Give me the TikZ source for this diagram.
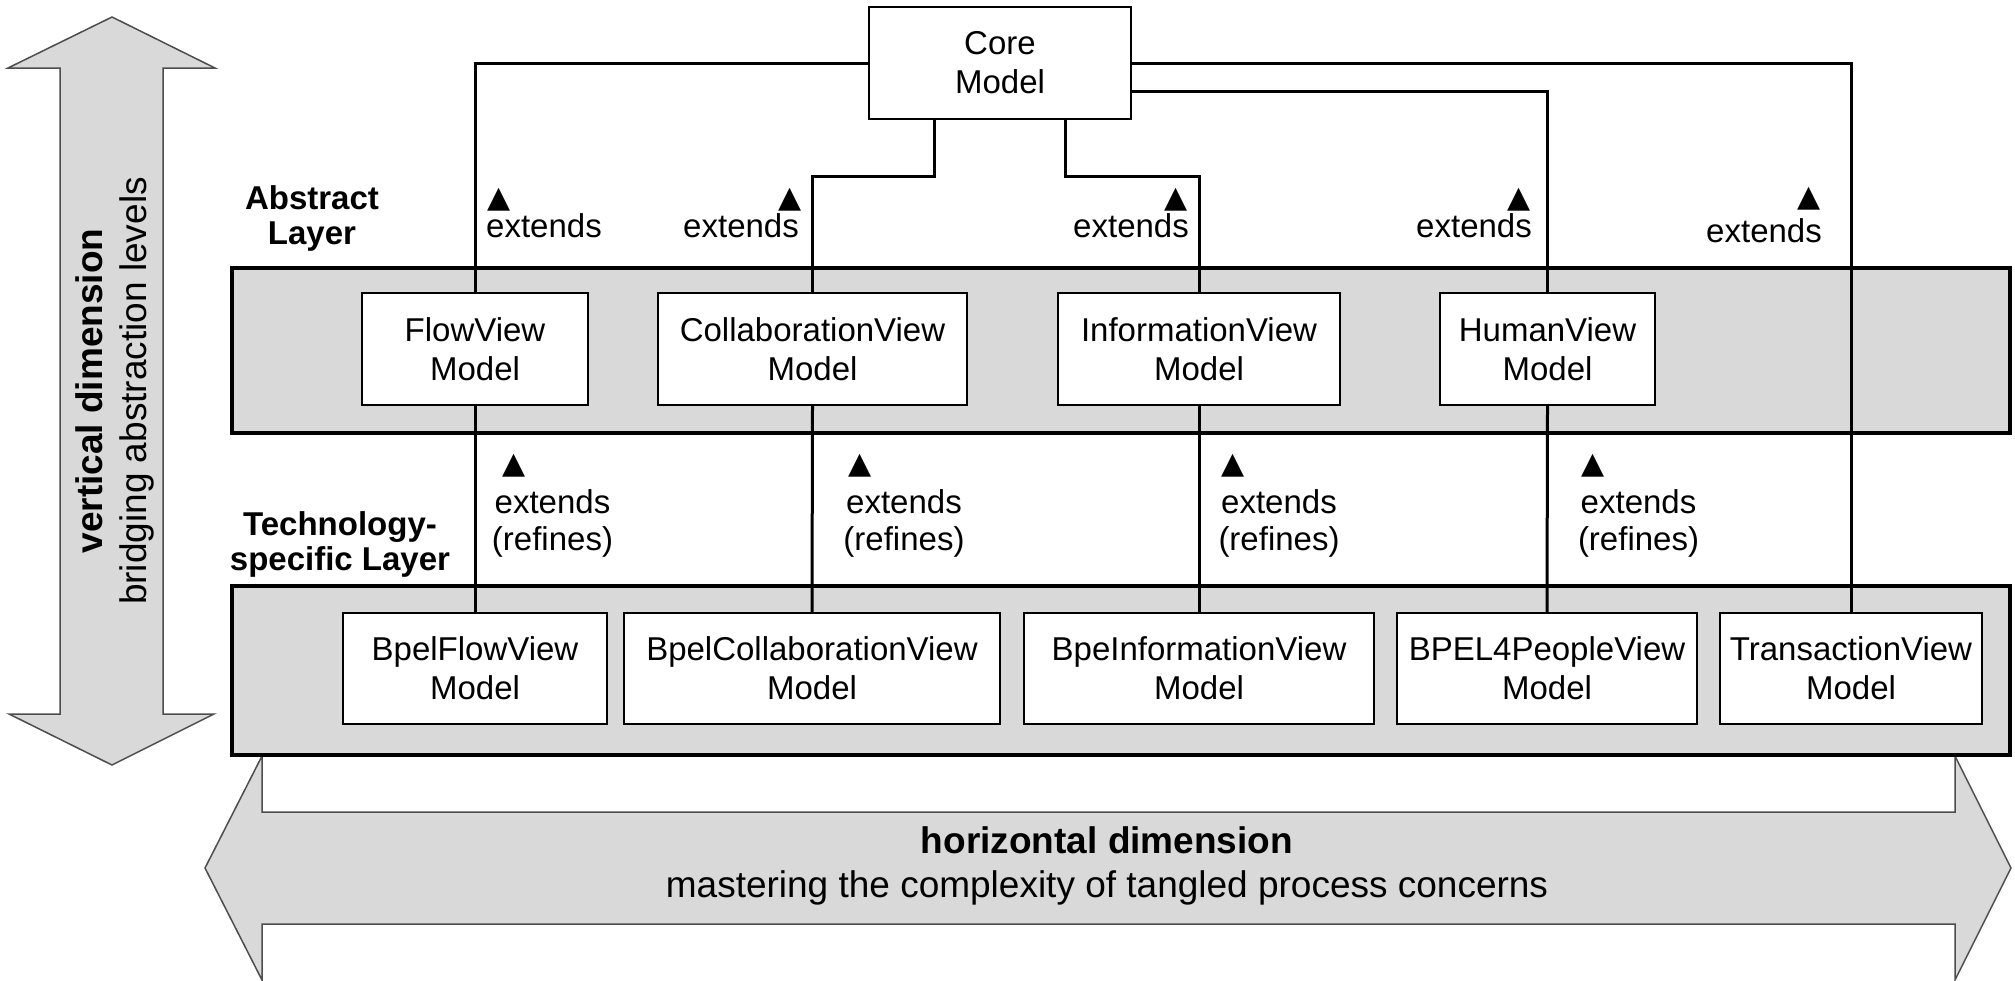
\documentclass[tikz,border=0pt]{standalone}
\usepackage{fontspec}
\setmainfont{Liberation Sans}
\newfontfamily\symbolfam{DejaVu Sans}
\definecolor{panelgray}{HTML}{D9D9D9}
\definecolor{edgegray}{HTML}{4D4D4D}
\newcommand{\mdlsize}{\fontsize{33}{39}\selectfont}
\newcommand{\lblsize}{\fontsize{33}{37}\selectfont}
\newcommand{\ttlsize}{\fontsize{33}{35}\selectfont\bfseries}
\newcommand{\dimsize}{\fontsize{37}{44}\selectfont}
\begin{document}
\begin{tikzpicture}[x=1pt,y=-1pt,
  layer/.style={draw=black, fill=panelgray, line width=3.5pt, inner sep=0pt},
  dimarrow/.style={draw=edgegray, fill=panelgray, line width=1.5pt, line join=miter},
  model/.style={draw=black, fill=white, line width=2pt, inner sep=0pt, align=center, font=\mdlsize},
  conn/.style={line width=3pt},
  lbl/.style={inner sep=0pt, font=\lblsize, align=center},
  ttl/.style={inner sep=0pt, font=\ttlsize, align=center},
  tri/.style={inner sep=0pt, font=\symbolfam\fontsize{30}{30}\selectfont},
]
\useasboundingbox (0,0) rectangle (2015,980);

% horizontal dimension (double arrow along the bottom)
\draw[dimarrow] (205,868) -- (262,756) -- (262,812) -- (1955,812) -- (1955,756)
  -- (2011,868) -- (1955,980) -- (1955,924) -- (262,924) -- (262,980) -- cycle;
% base anchor of a multi-line node sits on its last line
\node[inner sep=0pt, align=center, font=\dimsize, anchor=base] (hdim) at (1107,897)
  {\bfseries horizontal dimension\\mastering the complexity of tangled process concerns};

% vertical dimension (double arrow on the left)
\draw[dimarrow] (112,17) -- (215,68) -- (163,68) -- (163,714) -- (214,714)
  -- (112,765) -- (9,714) -- (60,714) -- (60,68) -- (8,68) -- cycle;
\node[inner sep=0pt, align=center, font=\dimsize, rotate=90, anchor=base] (vdim) at (146,391)
  {{\bfseries vertical dimension}\\bridging abstraction levels};

% layers
\node[layer, minimum width=1778pt, minimum height=165pt] (abstractlayer) at (1121,350.5) {};
\node[layer, minimum width=1778pt, minimum height=169pt] (techlayer) at (1121,670.5) {};

\node[ttl, anchor=base] (abstractttl) at (312,244) {Abstract\\Layer};
\node[ttl, anchor=base] (techttl) at (340,570) {Technology-\\specific Layer};

% core model
\node[model, minimum width=262pt, minimum height=112pt] (core) at (1000,63) {Core\\Model};

% abstract view models
\node[model, minimum width=226pt, minimum height=112pt] (flow) at (475,349) {FlowView\\Model};
\node[model, minimum width=309pt, minimum height=112pt] (collab) at (812.5,349) {CollaborationView\\Model};
\node[model, minimum width=282pt, minimum height=112pt] (info) at (1199,349) {InformationView\\Model};
\node[model, minimum width=215pt, minimum height=112pt] (human) at (1547.5,349) {HumanView\\Model};

% technology-specific view models
\node[model, minimum width=264pt, minimum height=111pt] (bflow) at (475,668.5) {BpelFlowView\\Model};
\node[model, minimum width=376pt, minimum height=111pt] (bcollab) at (812,668.5) {BpelCollaborationView\\Model};
\node[model, minimum width=350pt, minimum height=111pt] (binfo) at (1199,668.5) {BpeInformationView\\Model};
\node[model, minimum width=300pt, minimum height=111pt] (bpeople) at (1547,668.5) {BPEL4PeopleView\\Model};
\node[model, minimum width=262pt, minimum height=111pt] (btrans) at (1851,668.5) {TransactionView\\Model};

% extension relations from the core model
\draw[conn] (core.west) -| (flow.north);
\draw[conn] ([xshift=-66pt]core.south) -- ++(0,56) -| (collab.north);
\draw[conn] ([xshift=65pt]core.south) -- ++(0,56) -| (info.north);
\draw[conn] ([yshift=-28pt]core.east) -| (human.north);
\draw[conn] (core.east) -| (btrans.north);

% refinement relations between the layers
\draw[conn] (flow.south) -- (bflow.north);
\draw[conn] (collab.south) -- (bcollab.north);
\draw[conn] (info.south) -- (binfo.north);
\draw[conn] (human.south) -- (bpeople.north);

% labels of the core extensions
\node[lbl, anchor=base west] (ext1) at (486,237) {extends};
\node[tri, anchor=south west] (tri1) at (487,211) {▲};
\node[lbl, anchor=base east] (ext2) at (799,237) {extends};
\node[tri, anchor=south east] (tri2) at (802,211) {▲};
\node[lbl, anchor=base east] (ext3) at (1189,237) {extends};
\node[tri, anchor=south east] (tri3) at (1188,211) {▲};
\node[lbl, anchor=base east] (ext4) at (1532,237) {extends};
\node[tri, anchor=south east] (tri4) at (1531,211) {▲};
\node[lbl, anchor=base east] (ext5) at (1822,242) {extends};
\node[tri, anchor=south east] (tri5) at (1821,210) {▲};

% labels of the refinements
\node[lbl, anchor=base] (ref1) at (552.5,550) {extends\\(refines)};
\node[tri, anchor=south west] (rtri1) at (502,477) {▲};
\node[lbl, anchor=base] (ref2) at (904,550) {extends\\(refines)};
\node[tri, anchor=south west] (rtri2) at (848,477) {▲};
\node[lbl, anchor=base] (ref3) at (1279,550) {extends\\(refines)};
\node[tri, anchor=south west] (rtri3) at (1221,477) {▲};
\node[lbl, anchor=base] (ref4) at (1638.5,550) {extends\\(refines)};
\node[tri, anchor=south west] (rtri4) at (1581,477) {▲};
\end{tikzpicture}
\end{document}
